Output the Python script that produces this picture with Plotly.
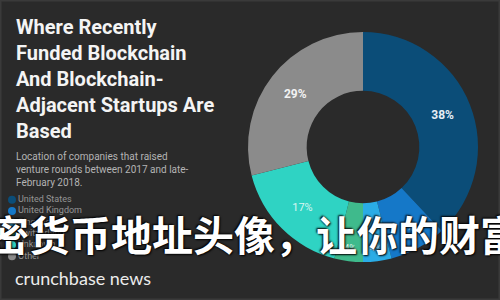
import plotly.graph_objects as go

# ---- data ----
countries = ["United States", "United Kingdom", "Singapore", "Switzerland", "Unknown", "Other"]
shares = [38, 8, 4, 4, 17, 29]
slice_colors = ["#0b4d78", "#1578c8", "#2aace6", "#3fba8c", "#2fd3c3", "#8b8b8b"]
label_weights = ["bold", "normal", "normal", "normal", "normal", "bold"]
label_sizes = [12, 11, 9, 9, 11, 12]
label_colors = ["#e6eef5", "#cfe6f7", "#cfe6f7", "#d9f2ea", "#d8f6f2", "#f2f2f2"]

title_lines = ["Where Recently", "Funded Blockchain", "And Blockchain-", "Adjacent Startups Are", "Based"]
subtitle_lines = ["Location of companies that raised", "venture rounds between 2017 and late-", "February 2018."]
brand = "crunchbase news"
overlay = "密货币地址头像，让你的财富"

W, H = 500, 300
BG = "#2a2a2a"

fig = go.Figure()

# donut
cx, cy, r = 363, 147, 115
fig.add_trace(go.Pie(
    values=shares,
    labels=countries,
    marker=dict(colors=slice_colors, line=dict(width=0)),
    hole=0.49,
    sort=False,
    direction="clockwise",
    rotation=0,
    texttemplate="%{percent:.0%}",
    textposition="inside",
    insidetextorientation="horizontal",
    textfont=dict(family="Roboto", size=label_sizes, color=label_colors, weight=label_weights),
    domain=dict(x=[(cx - r) / W, (cx + r) / W], y=[(H - cy - r) / H, (H - cy + r) / H]),
    showlegend=False,
    hoverinfo="label+percent",
))

# custom legend with round markers
fig.add_trace(go.Scatter(
    x=[12] * len(countries),
    y=countries,
    mode="markers+text",
    marker=dict(size=8, color=slice_colors, line=dict(width=0)),
    text=countries,
    textposition="middle right",
    textfont=dict(family="Roboto", size=9, color="#959595"),
    xaxis="x", yaxis="y",
    showlegend=False,
    hoverinfo="skip",
    cliponaxis=False,
))

annotations = [
    dict(text="<br>".join(title_lines), x=14 / W, y=1 - 13 / H, xref="paper", yref="paper",
         xanchor="left", yanchor="top", align="left", showarrow=False,
         font=dict(family="Roboto", size=20, color="#f4f4f4", weight="bold")),
    dict(text="<br>".join(subtitle_lines), x=14 / W, y=1 - 149 / H, xref="paper", yref="paper",
         xanchor="left", yanchor="top", align="left", showarrow=False,
         font=dict(family="Roboto", size=10, color="#b4b4b4")),
    dict(text=brand, x=13 / W, y=1 - 278 / H, xref="paper", yref="paper",
         xanchor="left", yanchor="middle", align="left", showarrow=False,
         font=dict(family="Lato", size=18, color="#ececec")),
    dict(text=overlay, x=-14 / W, y=1 - 233 / H, xref="paper", yref="paper",
         xanchor="left", yanchor="middle", align="left", showarrow=False,
         font=dict(family="Noto Sans CJK SC", size=41, color="#ffffff", weight="bold",
                   shadow="1px 1px 2px #000, -1px -1px 2px #000")),
]

fig.update_layout(
    width=W, height=H,
    margin=dict(l=0, r=0, t=0, b=0),
    paper_bgcolor=BG, plot_bgcolor="rgba(0,0,0,0)",
    xaxis=dict(range=[0, W], domain=[0, 1], visible=False, fixedrange=True),
    yaxis=dict(type="category", categoryarray=countries, range=[5.5, -0.5],
               domain=[(H - 262) / H, (H - 194) / H], visible=False, fixedrange=True),
    annotations=annotations,
    shapes=[dict(type="rect", xref="paper", yref="paper", x0=0, y0=0, x1=1, y1=1,
                 line=dict(color="#3a3a3a", width=3), fillcolor="rgba(0,0,0,0)")],
)

fig.write_html("out.html", config=dict(displayModeBar=False))
